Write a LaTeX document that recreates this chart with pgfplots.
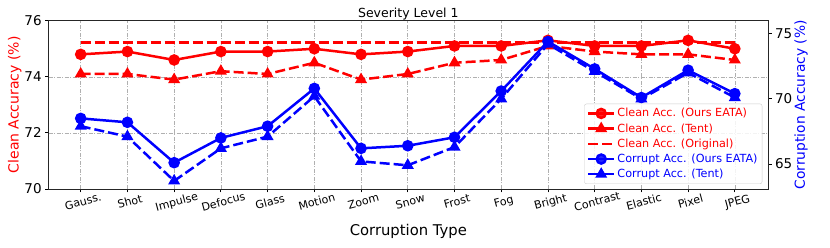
\documentclass[border=0pt]{standalone}
\usepackage{pgfplots}
\pgfplotsset{compat=1.18}
\usepackage{fontspec}
\setmainfont{DejaVu Sans}
\definecolor{gridc}{RGB}{176,176,176}
\begin{document}
\begin{tikzpicture}
\pgfplotsset{
  common/.style={
    scale only axis, width=719.3pt, height=168.3pt,
    xmin=-0.685, xmax=14.71,
    /pgf/number format/assume math mode=true,
    tick align=outside, major tick length=3.5pt,
    tick style={black, line width=0.8pt},
    axis line style={line width=0.8pt, black!85},
    ticklabel style={font=\fontsize{13.5}{15}\selectfont},
  },
  cl/.style={red, line width=2.5pt, mark size=4.5pt},
  cb/.style={blue, line width=2.5pt, mark size=4.5pt},
  dsh/.style={dash pattern=on 10pt off 4pt},
}
\begin{axis}[common, name=ax1,
  ymin=70, ymax=76, ytick={70,72,74,76},
  ytick pos=left, xtick pos=bottom,
  xtick={0,...,14},
  xticklabels={Gauss.,Shot,Impulse,Defocus,Glass,Motion,Zoom,Snow,Frost,Fog,Bright,Contrast,Elastic,Pixel,JPEG},
  xticklabel style={font=\fontsize{11}{13}\selectfont, rotate=15, anchor=north, yshift=-1.5pt},
  ymajorgrids, xmajorgrids,
  grid style={gridc, line width=0.6pt, dash pattern=on 4pt off 1.5pt on 1pt off 1.5pt},
  ylabel={Clean Accuracy (\%)},
  ylabel style={red, font=\fontsize{14}{16}\selectfont, at={(axis description cs:-0.0473,0.5)}, anchor=center},
  xlabel={Corruption Type},
  xlabel style={font=\fontsize{14.8}{17}\selectfont, yshift=-3pt},
  title={Severity Level 1},
  title style={font=\fontsize{12.5}{14}\selectfont, yshift=-9pt},
]
\addplot[cl, mark=*] coordinates {
(0,74.8)(1,74.9)(2,74.6)(3,74.9)(4,74.9)(5,75.0)(6,74.8)(7,74.9)(8,75.1)(9,75.1)(10,75.3)(11,75.1)(12,75.1)(13,75.3)(14,75.0)};
\addplot[cl, dsh, mark=triangle*, mark options={solid}] coordinates {
(0,74.1)(1,74.1)(2,73.9)(3,74.2)(4,74.1)(5,74.5)(6,73.9)(7,74.1)(8,74.5)(9,74.6)(10,75.1)(11,74.9)(12,74.8)(13,74.8)(14,74.6)};
\addplot[cl, dsh] coordinates {
(0,75.23)(1,75.23)(2,75.23)(3,75.23)(4,75.23)(5,75.23)(6,75.23)(7,75.23)(8,75.23)(9,75.23)(10,75.23)(11,75.23)(12,75.23)(13,75.23)(14,75.23)};
\end{axis}
\begin{axis}[common, name=ax2,
  ymin=63.08, ymax=76, ytick={65,70,75},
  axis y line*=right, hide x axis,
  ylabel={Corruption Accuracy (\%)},
  ylabel style={blue, font=\fontsize{13.8}{16}\selectfont, at={(axis description cs:1.0459,0.5)}, anchor=center},
  legend style={at={(rel axis cs:0.992,0.03)}, anchor=south east,
    font=\fontsize{11.2}{13}\selectfont, draw=black!20, rounded corners=2pt,
    row sep=1.2pt, inner sep=2.5pt, fill=white, fill opacity=0.85, text opacity=1},
  legend cell align=left,
  legend image code/.code={\draw[mark repeat=2,mark phase=2,#1] plot coordinates {(0pt,0pt) (13pt,0pt) (26pt,0pt)};},
]
\addplot[cb, mark=*, forget plot] coordinates {
(0,68.5)(1,68.2)(2,65.1)(3,67.0)(4,67.9)(5,70.8)(6,66.2)(7,66.4)(8,67.05)(9,70.6)(10,74.4)(11,72.3)(12,70.1)(13,72.2)(14,70.4)};
\addplot[cb, dsh, mark=triangle*, mark options={solid}, forget plot] coordinates {
(0,67.9)(1,67.1)(2,63.7)(3,66.2)(4,67.1)(5,70.2)(6,65.2)(7,64.9)(8,66.3)(9,70.0)(10,74.2)(11,72.1)(12,70.0)(13,72.0)(14,70.1)};
\addlegendimage{cl, mark=*}
\addlegendentry{\textcolor{red}{Clean Acc. (Ours EATA)}}
\addlegendimage{cl, mark=triangle*}
\addlegendentry{\textcolor{red}{Clean Acc. (Tent)}}
\addlegendimage{cl, dsh}
\addlegendentry{\textcolor{red}{Clean Acc. (Original)}}
\addlegendimage{cb, mark=*}
\addlegendentry{\textcolor{blue}{Corrupt Acc. (Ours EATA)}}
\addlegendimage{cb, mark=triangle*}
\addlegendentry{\textcolor{blue}{Corrupt Acc. (Tent)}}
\end{axis}
\pgfresetboundingbox
\path[use as bounding box] (ax1.south west) ++(-48.7pt,-59pt) rectangle ([xshift=62pt,yshift=20.7pt]ax1.north east);
\end{tikzpicture}
\end{document}
